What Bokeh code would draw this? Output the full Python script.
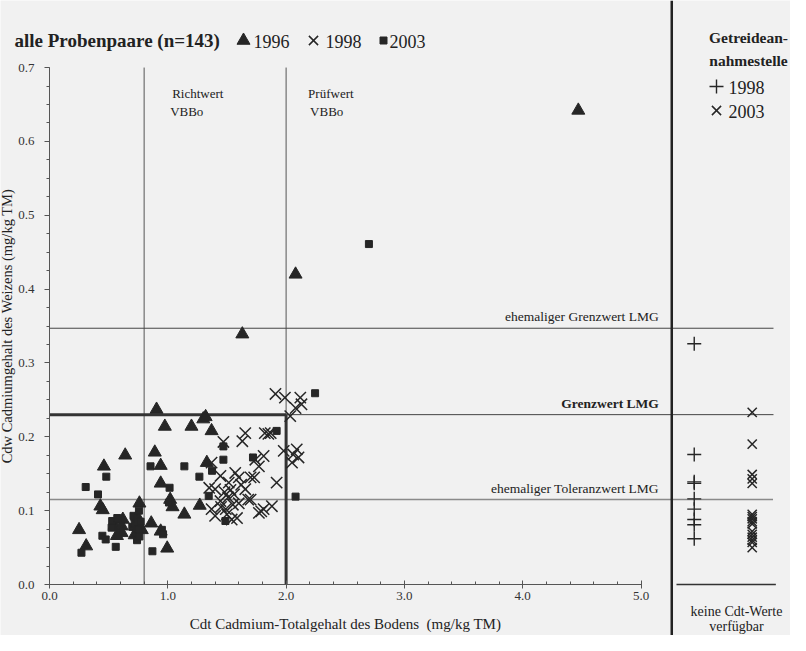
from bokeh.plotting import figure
from bokeh.models import Range1d, Span, Label, FixedTicker, NumeralTickFormatter
from bokeh.embed import file_html
from bokeh.resources import INLINE

# ---------------- data ----------------
x_1996 = [0.25, 0.31, 0.43, 0.45, 0.46, 0.64, 0.55, 0.61, 0.61, 0.57, 0.74, 0.76, 0.75, 0.78,
          0.86, 0.89, 0.905, 0.94, 0.94, 0.94, 0.975, 0.995, 1.02, 1.04, 1.14, 1.20, 1.27, 1.30,
          1.32, 1.33, 1.37, 1.63, 2.08, 4.47, 0.72, 0.62]
y_1996 = [0.074, 0.052, 0.106, 0.101, 0.160, 0.175, 0.080, 0.079, 0.070, 0.066, 0.092, 0.110, 0.082, 0.074,
          0.083, 0.179, 0.237, 0.161, 0.137, 0.072, 0.214, 0.049, 0.115, 0.105, 0.095, 0.214, 0.107, 0.224,
          0.227, 0.165, 0.208, 0.339, 0.420, 0.642, 0.067, 0.088]

x_1998 = [1.35, 1.37, 1.37, 1.40, 1.40, 1.445, 1.445, 1.45, 1.47, 1.48, 1.49, 1.50, 1.515, 1.51,
          1.53, 1.54, 1.55, 1.56, 1.57, 1.585, 1.60, 1.60, 1.62, 1.63, 1.655, 1.655, 1.68, 1.70,
          1.70, 1.73, 1.74, 1.77, 1.77, 1.79, 1.81, 1.81, 1.82, 1.85, 1.87, 1.88, 1.91, 1.92,
          1.98, 1.99, 2.035, 2.05, 2.06, 2.08, 2.09, 2.105, 2.12, 2.13]
y_1998 = [0.131, 0.165, 0.102, 0.093, 0.129, 0.147, 0.113, 0.105, 0.193, 0.125, 0.102, 0.095, 0.138, 0.118,
          0.128, 0.088, 0.108, 0.122, 0.151, 0.090, 0.145, 0.110, 0.135, 0.194, 0.205, 0.129, 0.115, 0.145,
          0.115, 0.145, 0.169, 0.160, 0.097, 0.099, 0.174, 0.102, 0.205, 0.204, 0.205, 0.106, 0.258, 0.138,
          0.181, 0.253, 0.228, 0.165, 0.176, 0.239, 0.183, 0.172, 0.253, 0.244]

x_2003 = [0.27, 0.306, 0.41, 0.48, 0.447, 0.475, 0.53, 0.525, 0.573, 0.56, 0.70, 0.71, 0.72, 0.73,
          0.74, 0.74, 0.75, 0.76, 0.756, 0.77, 0.87, 0.95, 0.96, 0.854, 1.015, 1.01, 1.14, 1.267,
          1.346, 1.374, 1.47, 1.47, 1.487, 1.72, 1.92, 2.08, 2.245, 2.70]
y_2003 = [0.043, 0.132, 0.122, 0.146, 0.066, 0.061, 0.086, 0.077, 0.090, 0.051, 0.078, 0.093, 0.082, 0.070,
          0.088, 0.060, 0.075, 0.065, 0.100, 0.085, 0.045, 0.074, 0.068, 0.160, 0.131, 0.111, 0.160, 0.146,
          0.120, 0.154, 0.187, 0.169, 0.086, 0.172, 0.208, 0.119, 0.259, 0.461]

# Getreideannahmestelle (no Cdt values available)
gsn_1998 = [0.326, 0.176, 0.139, 0.137, 0.116, 0.102, 0.088, 0.081, 0.062]
gsn_2003 = [0.233, 0.190, 0.149, 0.143, 0.137, 0.095, 0.092, 0.089, 0.085, 0.082,
            0.072, 0.068, 0.064, 0.060, 0.057, 0.050]

x_ticks = [0.0, 1.0, 2.0, 3.0, 4.0, 5.0]
y_ticks = [0.0, 0.1, 0.2, 0.3, 0.4, 0.5, 0.6, 0.7]

richtwert_vbbo = 0.8
pruefwert_vbbo = 2.0
ehem_grenzwert_lmg = 0.347
grenzwert_lmg = 0.23
ehem_toleranzwert_lmg = 0.115

# ---------------- layout ----------------
W, H = 790, 635
X0_PX, PX_PER_X = 49.0, 118.3      # canvas px of x=0, px per unit
Y0_PX, PX_PER_Y = 584.0, 738.5     # canvas px (from top) of y=0, px per unit
x_start = -X0_PX / PX_PER_X
x_end = (W - X0_PX) / PX_PER_X
y_start = -(H - Y0_PX) / PX_PER_Y
y_end = Y0_PX / PX_PER_Y


def sx2x(sx):
    return (sx - X0_PX) / PX_PER_X


def sy2y(sy):
    return (Y0_PX - sy) / PX_PER_Y


SEP_X = 5.26          # separator of the right panel
GSN98_X = 5.45
GSN03_X = 5.94
LINE_END = 6.12
BASE_L, BASE_R = 5.30, 6.14

BG = "#f1f1f1"
DARK = "#262626"
GREY = "#555555"
FONT = "Liberation Serif"

p = figure(width=W, height=H, x_range=Range1d(x_start, x_end), y_range=Range1d(y_start, y_end),
           output_backend="svg", toolbar_location=None, min_border=0)
p.grid.visible = False
p.outline_line_color = None
p.background_fill_color = BG
p.border_fill_color = BG

# axes
p.xaxis.fixed_location = 0
p.yaxis.fixed_location = 0
p.xaxis.bounds = (x_ticks[0], x_ticks[-1])
p.yaxis.bounds = (y_ticks[0], y_ticks[-1])
p.xaxis.ticker = FixedTicker(ticks=x_ticks, minor_ticks=[i * 0.2 for i in range(26)])
p.yaxis.ticker = FixedTicker(ticks=y_ticks, minor_ticks=[i * 0.025 for i in range(29)])
for ax in (p.xaxis, p.yaxis):
    ax.formatter = NumeralTickFormatter(format="0.0")
    ax.axis_line_color = GREY
    ax.major_tick_line_color = GREY
    ax.minor_tick_line_color = GREY
    ax.major_label_text_font = FONT
    ax.major_label_text_font_size = "13px"
    ax.major_label_text_color = "#333333"
    ax.axis_label_text_font = FONT
    ax.axis_label_text_font_style = "normal"
    ax.axis_label_text_color = "#222222"
p.xaxis.axis_label = "Cdt Cadmium-Totalgehalt des Bodens\u00a0 (mg/kg TM)"
p.yaxis.axis_label = "Cdw Cadmiumgehalt des Weizens (mg/kg TM)"
p.xaxis.axis_label_text_font_size = "15px"
p.yaxis.axis_label_text_font_size = "14.5px"
p.xaxis.major_tick_in = 4
p.xaxis.major_tick_out = 4
p.xaxis.minor_tick_in = 3
p.xaxis.minor_tick_out = 0
p.xaxis.major_label_standoff = 3
p.xaxis.axis_label_standoff = 13
p.yaxis.major_tick_in = 0
p.yaxis.major_tick_out = 5
p.yaxis.minor_tick_in = 0
p.yaxis.minor_tick_out = 3
p.yaxis.major_label_standoff = 10
p.yaxis.axis_label_standoff = 0

# reference lines
p.segment(x0=[richtwert_vbbo], y0=[0], x1=[richtwert_vbbo], y1=[y_ticks[-1]], line_color=GREY, line_width=1)
p.segment(x0=[pruefwert_vbbo], y0=[grenzwert_lmg], x1=[pruefwert_vbbo], y1=[y_ticks[-1]], line_color=GREY, line_width=1)
p.segment(x0=[0], y0=[ehem_grenzwert_lmg], x1=[LINE_END], y1=[ehem_grenzwert_lmg], line_color="#444444", line_width=1)
p.segment(x0=[pruefwert_vbbo], y0=[grenzwert_lmg], x1=[LINE_END], y1=[grenzwert_lmg], line_color="#444444", line_width=1)
p.segment(x0=[0], y0=[ehem_toleranzwert_lmg], x1=[LINE_END], y1=[ehem_toleranzwert_lmg],
          line_color="#222222", line_width=1.4, line_dash="1 1")
p.segment(x0=[0, pruefwert_vbbo], y0=[grenzwert_lmg, 0], x1=[pruefwert_vbbo, pruefwert_vbbo],
          y1=[grenzwert_lmg, grenzwert_lmg], line_color="#333333", line_width=3)
p.segment(x0=[BASE_L], y0=[0], x1=[BASE_R], y1=[0], line_color="#333333", line_width=1.3)
p.add_layout(Span(location=SEP_X, dimension="height", line_color="#222222", line_width=2.5))

# data marks
STY96 = dict(marker="triangle", size=13, fill_color=DARK, line_color=DARK)
STY98 = dict(marker="x", size=16, line_color=DARK, line_width=1.5)
STY03 = dict(marker="square", size=7, fill_color=DARK, line_color=DARK)
STYG98 = dict(marker="cross", size=14, line_color=DARK, line_width=1.4)
STYG03 = dict(marker="x", size=13, line_color=DARK, line_width=1.5)
p.scatter(x_1996, y_1996, **STY96)
p.scatter(x_1998, y_1998, **STY98)
p.scatter(x_2003, y_2003, **STY03)
p.scatter([GSN98_X] * len(gsn_1998), gsn_1998, **STYG98)
p.scatter([GSN03_X] * len(gsn_2003), gsn_2003, **STYG03)


def lab(**kw):
    base = dict(text_font=FONT, text_color="#222222")
    base.update(kw)
    p.add_layout(Label(**base))


def slab(sx, sy, text, **kw):
    lab(x=sx, y=H - sy, x_units="screen", y_units="screen", text=text, text_baseline="middle", **kw)


# threshold texts
lab(x=5.15, y=ehem_grenzwert_lmg, text="ehemaliger Grenzwert LMG", text_align="right",
    text_baseline="bottom", y_offset=4, text_font_size="13.5px")
lab(x=5.15, y=grenzwert_lmg, text="Grenzwert LMG", text_align="right", text_font_style="bold",
    text_baseline="bottom", y_offset=4, text_font_size="13.5px")
lab(x=5.15, y=ehem_toleranzwert_lmg, text="ehemaliger Toleranzwert LMG", text_align="right",
    text_baseline="bottom", y_offset=4, text_font_size="13.5px")
lab(x=richtwert_vbbo, y=y_ticks[-1], text="Richtwert", x_offset=28, y_offset=-26,
    text_baseline="middle", text_font_size="13px")
lab(x=richtwert_vbbo, y=y_ticks[-1], text="VBBo", x_offset=26, y_offset=-44,
    text_baseline="middle", text_font_size="13px")
lab(x=pruefwert_vbbo, y=y_ticks[-1], text="Prüfwert", x_offset=22, y_offset=-26,
    text_baseline="middle", text_font_size="13px")
lab(x=pruefwert_vbbo, y=y_ticks[-1], text="VBBo", x_offset=24, y_offset=-44,
    text_baseline="middle", text_font_size="13px")

# title with legend keys
slab(14, 40, "alle Probenpaare (n=143)", text_font_style="bold", text_font_size="19px")
p.scatter([sx2x(243)], [sy2y(40)], **STY96)
slab(253, 41, "1996", text_font_size="18px")
p.scatter([sx2x(313)], [sy2y(40)], **dict(STY98, size=13))
slab(325, 41, "1998", text_font_size="18px")
p.scatter([sx2x(383)], [sy2y(40)], **STY03)
slab(389, 41, "2003", text_font_size="18px")

# right panel texts and legend keys
slab(748, 37, "Getreidean-", text_font_style="bold", text_font_size="15.5px", text_align="center")
slab(748, 60, "nahmestelle", text_font_style="bold", text_font_size="15.5px", text_align="center")
p.scatter([sx2x(716)], [sy2y(86)], **STYG98)
slab(728, 87, "1998", text_font_size="18px")
p.scatter([sx2x(716)], [sy2y(110)], **STYG03)
slab(728, 111, "2003", text_font_size="18px")
slab(736, 611, "keine Cdt-Werte", text_font_size="14px", text_align="center")
slab(736, 626, "verfügbar", text_font_size="14px", text_align="center")

open("out.html", "w").write(file_html(p, INLINE))
